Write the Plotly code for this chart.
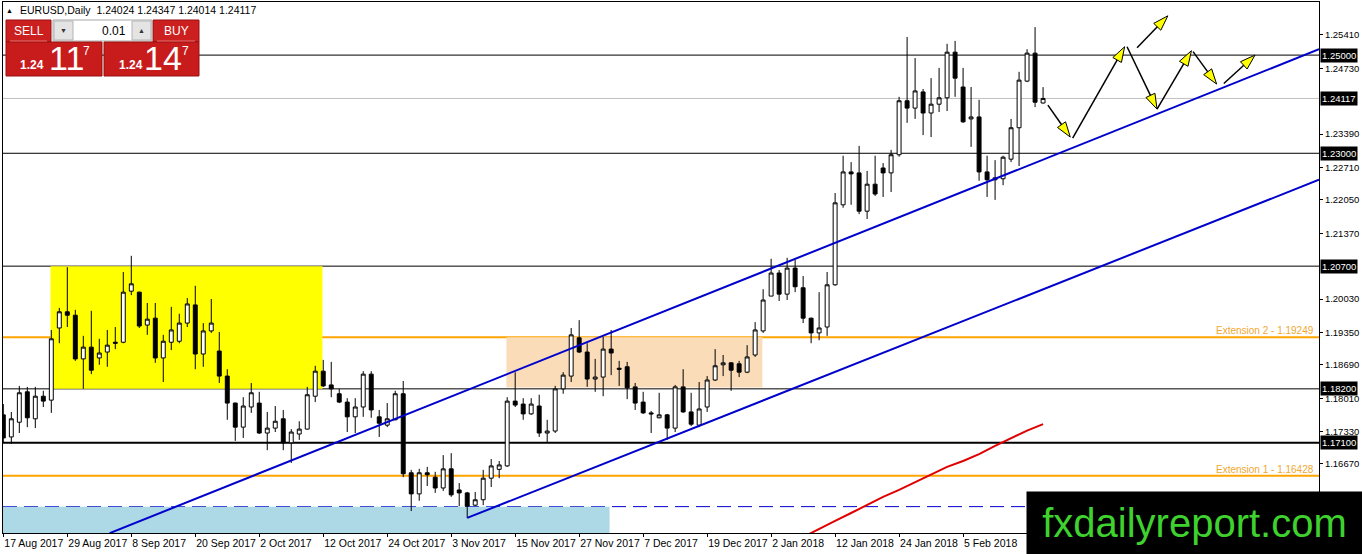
import plotly.graph_objects as go

# EURUSD daily, bar index 0 = 17 Aug 2017 ... 130 = 19 Feb 2018 (weekends skipped)
opens = [1.1767, 1.1722, 1.1752, 1.1814, 1.1759, 1.1805, 1.1797, 1.1944, 1.1977, 1.1970,
         1.1881, 1.1905, 1.1883, 1.1895, 1.1915, 1.1915, 1.2019, 1.2017, 1.1950, 1.1964,
         1.1883, 1.1915, 1.1917, 1.1954, 1.1991, 1.1891, 1.1938, 1.1897, 1.1846, 1.1791,
         1.1742, 1.1783, 1.1791, 1.1730, 1.1740, 1.1759, 1.1710, 1.1728, 1.1738, 1.1805,
         1.1856, 1.1828, 1.1810, 1.1793, 1.1763, 1.1783, 1.1850, 1.1763, 1.1746, 1.1757,
         1.1810, 1.1649, 1.1606, 1.1649, 1.1640, 1.1618, 1.1657, 1.1614, 1.1608, 1.1583,
         1.1594, 1.1638, 1.1656, 1.1663, 1.1795, 1.1789, 1.1769, 1.1785, 1.1730, 1.1734,
         1.1820, 1.1846, 1.1924, 1.1895, 1.1840, 1.1844, 1.1901, 1.1862, 1.1865, 1.1824,
         1.1793, 1.1771, 1.1761, 1.1767, 1.1740, 1.1824, 1.1773, 1.1746, 1.1783, 1.1838,
         1.1869, 1.1873, 1.1871, 1.1854, 1.1889, 1.1938, 1.2009, 1.2056, 1.2013, 1.2066,
         1.2026, 1.1964, 1.1934, 1.1946, 1.2032, 1.2195, 1.2262, 1.2260, 1.2182, 1.2237,
         1.2270, 1.2260, 1.2297, 1.2407, 1.2392, 1.2425, 1.2382, 1.2400, 1.2413, 1.2506,
         1.2435, 1.2370, 1.2374, 1.2262, 1.2246, 1.2248, 1.2288, 1.2352, 1.2447, 1.2504,
         1.24024]
highs = [1.1789, 1.1773, 1.1826, 1.1824, 1.1824, 1.1816, 1.1940, 1.1985, 1.2068, 1.1981,
         1.1928, 1.1979, 1.1922, 1.1940, 1.1946, 1.2058, 1.2091, 1.2018, 1.1995, 1.1995,
         1.1930, 1.1987, 1.1973, 1.2005, 1.2030, 1.1954, 1.2003, 1.1936, 1.1860, 1.1792,
         1.1803, 1.1832, 1.1814, 1.1773, 1.1785, 1.1777, 1.1738, 1.1754, 1.1824, 1.1867,
         1.1879, 1.1875, 1.1820, 1.1801, 1.1801, 1.1856, 1.1856, 1.1777, 1.1791, 1.1816,
         1.1836, 1.1655, 1.1657, 1.1661, 1.1651, 1.1685, 1.1689, 1.1628, 1.1610, 1.1610,
         1.1655, 1.1677, 1.1673, 1.1803, 1.1854, 1.1801, 1.1801, 1.1808, 1.1757, 1.1826,
         1.1854, 1.1944, 1.1960, 1.1913, 1.1881, 1.1926, 1.1940, 1.1877, 1.1875, 1.1832,
         1.1814, 1.1775, 1.1812, 1.1769, 1.1828, 1.1860, 1.1812, 1.1834, 1.1846, 1.1901,
         1.1889, 1.1874, 1.1877, 1.1909, 1.1956, 1.2023, 1.2085, 1.2062, 1.2087, 1.2083,
         1.2050, 1.1965, 1.2017, 1.2058, 1.2219, 1.2295, 1.2282, 1.2315, 1.2264, 1.2295,
         1.2280, 1.2307, 1.2415, 1.2537, 1.2494, 1.2431, 1.2453, 1.2474, 1.2523, 1.2529,
         1.2474, 1.2435, 1.2409, 1.2295, 1.2286, 1.2295, 1.2370, 1.2466, 1.2512, 1.2557,
         1.24347]
lows = [1.1710, 1.1708, 1.1730, 1.1742, 1.1740, 1.1783, 1.1771, 1.1913, 1.1946, 1.1877,
        1.1820, 1.1850, 1.1869, 1.1865, 1.1901, 1.1913, 1.2011, 1.1944, 1.1930, 1.1873,
        1.1834, 1.1899, 1.1913, 1.1946, 1.1860, 1.1865, 1.1934, 1.1832, 1.1757, 1.1714,
        1.1720, 1.1771, 1.1728, 1.1695, 1.1732, 1.1695, 1.1669, 1.1716, 1.1737, 1.1793,
        1.1824, 1.1803, 1.1791, 1.1732, 1.1730, 1.1763, 1.1761, 1.1722, 1.1742, 1.1756,
        1.1640, 1.1571, 1.1592, 1.1622, 1.1608, 1.1612, 1.1600, 1.1581, 1.1557, 1.1581,
        1.1583, 1.1620, 1.1638, 1.1661, 1.1783, 1.1757, 1.1767, 1.1722, 1.1710, 1.1730,
        1.1810, 1.1834, 1.1893, 1.1824, 1.1814, 1.1805, 1.1848, 1.1826, 1.1799, 1.1777,
        1.1769, 1.1730, 1.1760, 1.1716, 1.1732, 1.1771, 1.1744, 1.1742, 1.1773, 1.1836,
        1.1846, 1.1816, 1.1844, 1.1852, 1.1885, 1.1934, 1.2009, 1.1999, 1.2001, 1.2017,
        1.1954, 1.1913, 1.1919, 1.1928, 1.2030, 1.2189, 1.2195, 1.2176, 1.2166, 1.2213,
        1.2211, 1.2221, 1.2293, 1.2362, 1.2370, 1.2337, 1.2333, 1.2384, 1.2386, 1.2415,
        1.2362, 1.2313, 1.2244, 1.2211, 1.2205, 1.2235, 1.2282, 1.2274, 1.2445, 1.2394,
        1.24014]
closes = [1.1720, 1.1759, 1.1812, 1.1761, 1.1805, 1.1795, 1.1922, 1.1977, 1.1970, 1.1881,
          1.1905, 1.1858, 1.1893, 1.1909, 1.1913, 1.2017, 1.2034, 1.1948, 1.1962, 1.1883,
          1.1917, 1.1940, 1.1954, 1.1993, 1.1891, 1.1938, 1.1954, 1.1846, 1.1791, 1.1742,
          1.1785, 1.1812, 1.1730, 1.1740, 1.1754, 1.1710, 1.1732, 1.1738, 1.1808, 1.1856,
          1.1826, 1.1820, 1.1793, 1.1763, 1.1783, 1.1850, 1.1777, 1.1750, 1.1759, 1.1810,
          1.1647, 1.1606, 1.1649, 1.1645, 1.1618, 1.1657, 1.1604, 1.1608, 1.1581, 1.1594,
          1.1638, 1.1663, 1.1665, 1.1795, 1.1787, 1.1769, 1.1789, 1.1730, 1.1734, 1.1820,
          1.1848, 1.1930, 1.1895, 1.1840, 1.1844, 1.1901, 1.1893, 1.1860, 1.1822, 1.1791,
          1.1771, 1.1769, 1.1767, 1.1740, 1.1824, 1.1773, 1.1748, 1.1779, 1.1838, 1.1867,
          1.1873, 1.1858, 1.1854, 1.1885, 1.1940, 1.2001, 1.2056, 1.2013, 1.2066, 1.2028,
          1.1964, 1.1934, 1.1944, 1.2032, 1.2199, 1.2262, 1.2258, 1.2182, 1.2237, 1.2217,
          1.2260, 1.2297, 1.2407, 1.2392, 1.2427, 1.2382, 1.2400, 1.2413, 1.2506, 1.2453,
          1.2364, 1.2374, 1.2262, 1.2246, 1.2250, 1.2292, 1.2352, 1.2449, 1.2504, 1.2404,
          1.24117]

date_ticks = list(range(0, 121, 8))
date_labels = ["17 Aug 2017", "29 Aug 2017", "8 Sep 2017", "20 Sep 2017", "2 Oct 2017",
               "12 Oct 2017", "24 Oct 2017", "3 Nov 2017", "15 Nov 2017", "27 Nov 2017",
               "7 Dec 2017", "19 Dec 2017", "2 Jan 2018", "12 Jan 2018", "24 Jan 2018",
               "5 Feb 2018"]
# scale labels that are not hidden behind the level boxes / watermark
price_ticks = [1.25410, 1.24730, 1.23390, 1.22710, 1.22050, 1.21370,
               1.20030, 1.19350, 1.18690, 1.18010, 1.17330, 1.16670]

# red moving average (only the visible tail)
ma_bars = list(range(100, 131, 2))
ma_vals = [1.1518, 1.1535, 1.1551, 1.1567, 1.1583, 1.1600, 1.1614, 1.1630,
           1.1646, 1.1661, 1.1673, 1.1687, 1.1704, 1.1720, 1.1735, 1.1748]

# horizontal levels
black_levels = [1.25000, 1.23000, 1.20700, 1.18200]
bold_level = 1.17100
bid_level = 1.24117
ext_levels = [1.19249, 1.16428]
ext_names = ["Extension 2 - 1.19249", "Extension 1 - 1.16428"]
dash_level = 1.1580
boxed_levels = [1.25000, 1.24117, 1.23000, 1.20700, 1.18200, 1.17100]

# zones: (bar0, bar1, price0, price1, colour)
zones = [(5.9, 39.9, 1.1820, 1.2070, "#ffff00"),
         (62.9, 94.9, 1.1823, 1.19249, "#fbdcb9"),
         (-1, 75.8, 1.1500, 1.1580, "#add8e6")]

# channel trendlines: (bar, price) anchors
channel_upper = [(13.3, 1.1526), (164.5, 1.2512)]
channel_lower = [(58.0, 1.1557), (164.5, 1.2246)]

# projected path arrows: (bar0, price0, bar1, price1)
arrows = [(130.6, 1.2398, 133.4, 1.2333),
          (133.7, 1.2331, 140.2, 1.2517),
          (141.75, 1.2515, 145.6, 1.2580),
          (140.5, 1.2517, 144.25, 1.2390),
          (144.25, 1.2390, 148.55, 1.2509),
          (148.75, 1.2507, 151.7, 1.2441),
          (152.6, 1.2442, 156.5, 1.2500)]

FONT = "Liberation Sans"
X_RANGE = [-0.04, 164.5]
Y_RANGE = [1.15263, 1.26082]
# plot box in page pixels, used for the overlay panel
PL, PR, PT, PB = 3, 1319, 2, 533


def paper(x, y):
    return (x - PL) / (PR - PL), (PB - y) / (PB - PT)


fig = go.Figure()

fig.add_trace(go.Candlestick(
    x=list(range(len(opens))), open=opens, high=highs, low=lows, close=closes,
    increasing=dict(line=dict(color="black", width=1), fillcolor="white"),
    decreasing=dict(line=dict(color="black", width=1), fillcolor="black"),
    whiskerwidth=0, hoverinfo="skip"))

fig.add_trace(go.Scatter(x=ma_bars, y=ma_vals, mode="lines",
                         line=dict(color="#e00000", width=2), hoverinfo="skip"))

for b0, p0, b1, p1 in arrows:
    fig.add_trace(go.Scatter(
        x=[b0, b1], y=[p0, p1], mode="lines+markers",
        line=dict(color="black", width=1.5),
        marker=dict(symbol="arrow", angleref="previous", size=16, color="#ffff00",
                    opacity=[0, 1], line=dict(color="black", width=1)),
        hoverinfo="skip"))

shapes = []
for b0, b1, p0, p1, col in zones:
    shapes.append(dict(type="rect", xref="x", yref="y", x0=b0, x1=b1, y0=p0, y1=p1,
                       fillcolor=col, line=dict(width=0), layer="below"))
for lv in black_levels:
    shapes.append(dict(type="line", xref="paper", yref="y", x0=0, x1=1, y0=lv, y1=lv,
                       line=dict(color="black", width=1), layer="below"))
shapes.append(dict(type="line", xref="paper", yref="y", x0=0, x1=1, y0=bold_level, y1=bold_level,
                   line=dict(color="black", width=2), layer="below"))
shapes.append(dict(type="line", xref="paper", yref="y", x0=0, x1=1, y0=bid_level, y1=bid_level,
                   line=dict(color="#c0c0c0", width=1), layer="below"))
for lv in ext_levels:
    shapes.append(dict(type="line", xref="paper", yref="y", x0=0, x1=1, y0=lv, y1=lv,
                       line=dict(color="#ffa500", width=2), layer="below"))
shapes.append(dict(type="line", xref="paper", yref="y", x0=0, x1=1, y0=dash_level, y1=dash_level,
                   line=dict(color="#0000cc", width=1, dash="14px,7px"), layer="below"))
for (b0, p0), (b1, p1) in [channel_upper, channel_lower]:
    shapes.append(dict(type="line", xref="x", yref="y", x0=b0, x1=b1, y0=p0, y1=p1,
                       line=dict(color="#0000cc", width=2)))

# one-click trading panel (decoration, page pixels)
def prect(x0, y0, x1, y1, fill, edge):
    a0, b0 = paper(x0, y1)
    a1, b1 = paper(x1, y0)
    shapes.append(dict(type="rect", xref="paper", yref="paper", x0=a0, x1=a1, y0=b0, y1=b1,
                       fillcolor=fill, line=dict(color=edge, width=1), layer="above"))

prect(6, 20, 51, 42, "#cc1f1f", "#9a1010")
prect(153, 20, 199, 42, "#cc1f1f", "#9a1010")
prect(53, 20, 152, 41, "white", "#a8a8a8")
prect(54, 21, 73, 40, "#e4e4e4", "#b4b4b4")
prect(132, 21, 151, 40, "#e4e4e4", "#b4b4b4")
prect(6, 42, 102, 76, "#c81c1c", "#9a1010")
prect(104, 42, 199, 76, "#c81c1c", "#9a1010")
for xa, xb in [(10, 47), (157, 195)]:
    a0, yy = paper(xa, 41)
    a1, _ = paper(xb, 41)
    shapes.append(dict(type="line", xref="paper", yref="paper", x0=a0, x1=a1, y0=yy, y1=yy,
                       line=dict(color="#e87070", width=1), layer="above"))

annotations = []


def ptext(x, y, text, size, color="white", anchor="center", bold=False, family=FONT):
    a, b = paper(x, y)
    annotations.append(dict(xref="paper", yref="paper", x=a, y=b, text=text, showarrow=False,
                            xanchor=anchor, yanchor="middle",
                            font=dict(family=family, size=size, color=color,
                                      weight="bold" if bold else "normal")))


ptext(28.5, 31, "SELL", 12)
ptext(176, 31, "BUY", 12)
ptext(63.5, 30.5, "▼", 7, "#333333")
ptext(141.5, 30.5, "▲", 7, "#333333")
ptext(128, 31, "0.01", 12, "black", anchor="right")
ptext(32, 65, "1.24", 12, bold=True)
ptext(66, 58, "11", 34)
ptext(86, 51, "7", 12)
ptext(130.5, 65, "1.24", 12, bold=True)
ptext(163, 58, "14", 34)
ptext(185, 51, "7", 12)
ptext(9, 10, "▲", 7, "black")
ptext(18, 10, "EURUSD,Daily  1.24024 1.24347 1.24014 1.24117", 10.5, "black", anchor="left")

for lv in boxed_levels:
    annotations.append(dict(xref="paper", yref="y", x=1, y=lv, xshift=1, xanchor="left",
                            yanchor="middle", text=f"{lv:.5f}", showarrow=False,
                            bgcolor="black", borderpad=1,
                            font=dict(family=FONT, size=9.5, color="white")))
for lv, name in zip(ext_levels, ext_names):
    annotations.append(dict(xref="paper", yref="y", x=0.998, y=lv, xanchor="right",
                            yanchor="bottom", text=name, showarrow=False, yshift=-1,
                            font=dict(family=FONT, size=10, color="#f0a830")))

wx, wy = paper(1194.5, 523)
annotations.append(dict(xref="paper", yref="paper", x=wx, y=wy, xanchor="center",
                        yanchor="middle", text="fxdailyreport.com", showarrow=False,
                        width=335, height=62, bgcolor="black", borderpad=0,
                        font=dict(family=FONT, size=40, color="#3fd22f")))

fig.update_layout(
    width=1362, height=554,
    margin=dict(l=PL, r=1362 - PR, t=PT, b=554 - PB, autoexpand=False),
    paper_bgcolor="white", plot_bgcolor="white",
    showlegend=False,
    shapes=shapes, annotations=annotations,
    font=dict(family=FONT, size=10, color="black"),
    xaxis=dict(range=X_RANGE, tickvals=date_ticks, ticktext=date_labels, tickangle=0,
               ticks="outside", ticklen=3, tickcolor="black", ticklabelposition="outside right",
               showline=True, linecolor="black", linewidth=1, mirror=True, automargin=False,
               showgrid=False, zeroline=False, rangeslider=dict(visible=False),
               tickfont=dict(family=FONT, size=10.5, color="black")),
    yaxis=dict(range=Y_RANGE, side="right", tickvals=price_ticks,
               ticktext=[f"{p:.5f}" for p in price_ticks], automargin=False,
               ticks="outside", ticklen=3, tickcolor="black",
               showline=True, linecolor="black", linewidth=1, mirror=True,
               showgrid=False, zeroline=False,
               tickfont=dict(family=FONT, size=9.5, color="black")),
)

# the default page has an 8px body margin; drop it so the chart sits at the corner
fig.write_html("out.html", config={"displayModeBar": False},
               post_script="document.body.style.margin='0px';")
